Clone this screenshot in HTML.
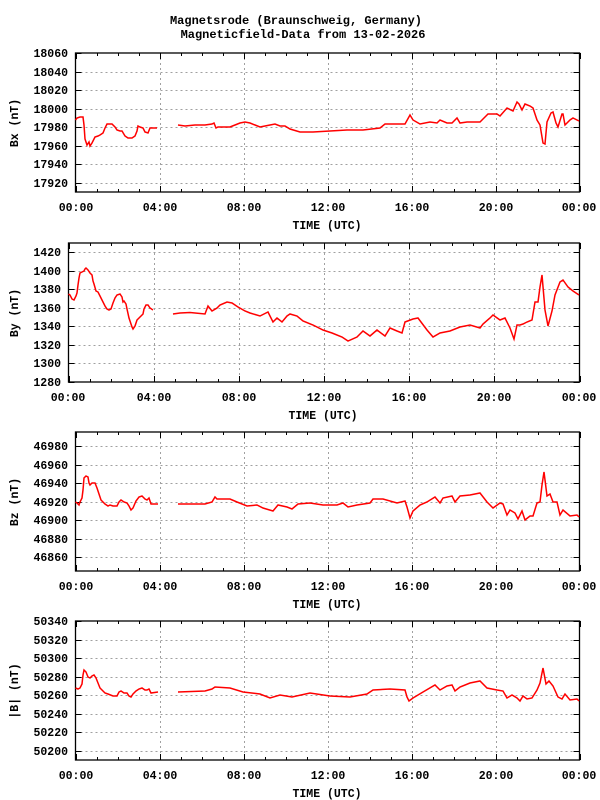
<!DOCTYPE html>
<html><head><meta charset="utf-8"><style>
body{margin:0;background:#fff;}
svg{display:block;font-family:"Liberation Mono",monospace;font-weight:bold;font-size:11.5px;}
</style></head><body>
<svg id="s" width="600" height="800" xmlns="http://www.w3.org/2000/svg">
<rect width="600" height="800" fill="#fff"/>
<g id="grid"></g>
<text x="296" y="24" text-anchor="middle" font-size="12">Magnetsrode (Braunschweig, Germany)</text>
<text x="303" y="38" text-anchor="middle" font-size="12">Magneticfield-Data from 13-02-2026</text>
<g text-anchor="end">
<text x="68" y="57">18060</text><text x="68" y="76">18040</text><text x="68" y="94">18020</text><text x="68" y="113">18000</text><text x="68" y="131">17980</text><text x="68" y="150">17960</text><text x="68" y="168">17940</text><text x="68" y="187">17920</text>
<text x="61" y="256">1420</text><text x="61" y="275">1400</text><text x="61" y="293">1380</text><text x="61" y="312">1360</text><text x="61" y="330">1340</text><text x="61" y="349">1320</text><text x="61" y="367">1300</text><text x="61" y="386">1280</text>
<text x="68" y="450">46980</text><text x="68" y="469">46960</text><text x="68" y="487">46940</text><text x="68" y="506">46920</text><text x="68" y="524">46900</text><text x="68" y="543">46880</text><text x="68" y="561">46860</text>
<text x="68" y="625">50340</text><text x="68" y="644">50320</text><text x="68" y="662">50300</text><text x="68" y="681">50280</text><text x="68" y="699">50260</text><text x="68" y="718">50240</text><text x="68" y="736">50220</text><text x="68" y="755">50200</text>
</g>
<g text-anchor="middle">
<text x="76" y="211">00:00</text><text x="160" y="211">04:00</text><text x="244" y="211">08:00</text><text x="328" y="211">12:00</text><text x="412" y="211">16:00</text><text x="496" y="211">20:00</text><text x="579" y="211">00:00</text>
<text x="327" y="229">TIME (UTC)</text>
<text x="68" y="401">00:00</text><text x="154" y="401">04:00</text><text x="239" y="401">08:00</text><text x="324" y="401">12:00</text><text x="409" y="401">16:00</text><text x="494" y="401">20:00</text><text x="579" y="401">00:00</text>
<text x="323" y="419">TIME (UTC)</text>
<text x="76" y="590">00:00</text><text x="160" y="590">04:00</text><text x="244" y="590">08:00</text><text x="328" y="590">12:00</text><text x="412" y="590">16:00</text><text x="496" y="590">20:00</text><text x="579" y="590">00:00</text>
<text x="327" y="608">TIME (UTC)</text>
<text x="76" y="779">00:00</text><text x="160" y="779">04:00</text><text x="244" y="779">08:00</text><text x="328" y="779">12:00</text><text x="412" y="779">16:00</text><text x="496" y="779">20:00</text><text x="579" y="779">00:00</text>
<text x="327" y="797">TIME (UTC)</text>
<text transform="translate(18,123) rotate(-90)">Bx (nT)</text>
<text transform="translate(18,313) rotate(-90)">By (nT)</text>
<text transform="translate(18,502) rotate(-90)">Bz (nT)</text>
<text transform="translate(18,691) rotate(-90)">|B| (nT)</text>
</g>
<g fill="none" stroke="#f00" stroke-width="1.5" stroke-linejoin="miter">
<polyline points="75.5,120 77,118 80,117 83,117 84,125 85,139 87,145 89,142 90,146 92,143 95,137 98,136 100,135 103,133 105,128 107,124 112,124 115,127 117,130 120,131 122,131 125,136 128,138 132,138 135,136 137,131 138,126 140,127 143,128 145,132 148,133 150,128 157,128"/>
<polyline points="178,125 185,126 195,125 205,125 212,124 214,123 216,128 218,127 222,127 230,127 235,125 240,123 245,122 250,123 255,125 260,127 265,126 270,125 275,124 280,126 285,126 290,129 300,132 313,132 330,131 347,130 363,130 380,128 385,124 405,124 410,115 413,120 420,124 430,122 437,123 440,120 447,123 452,123 457,118 460,123 467,122 480,122 483,119 488,114 497,114 500,116 507,108 513,111 517,102 519,104 522,110 525,104 530,106 533,108 537,120 540,125 543,143 545,144 547,122 551,113 553,112 556,123 558,127 562,114 563,114 565,125 570,120 573,118 579,121"/>
<polyline points="68.5,294 70,295 72,299 74,300 76,296 77,293 78,285 79,278 80,273 82,272 84,271 85,269 86,268 88,270 90,273 92,275 93,281 94,284 96,291 98,292 100,296 101,298 103,302 105,306 107,309 109,310 111,309 113,303 115,298 117,295 120,294 122,297 123,302 124,301 126,304 127,309 129,318 131,324 132,327 133,329 135,326 137,320 140,317 143,314 144,309 146,305 148,305 150,308 153,310"/>
<polyline points="173,314 180,313 190,312.5 205,314 208,306 212,311 217,308 220,305 227,302 232,303 238,307 245,311 250,313 260,316 268,312 273,322 277,318 282,322 287,316 290,314 297,316 303,321 313,325 323,330 332,333 342,337 348,341 357,337 363,331 370,336 377,330 385,336 390,328 397,331 402,333 405,322 413,319 418,318 427,330 433,337 440,333 450,331 460,327 470,325 480,328 483,324 490,318 493,315 500,320 505,318 510,328 514,339 517,325 520,325 523,324 527,322 532,320 535,302 538,302 540,287 542,275 545,310 548,326 552,311 555,295 560,282 563,280 568,287 573,291 579,295"/>
<polyline points="75.5,502 77,503 79,505 80,502 82,498 83,490 84,478 86,476 88,477 89,483 90,485 92,483 95,483 97,488 99,494 101,500 103,502 105,504 108,506 110,505 113,506 117,506 119,502 121,500 124,502 127,503 129,506 131,510 133,508 136,501 139,497 142,496 145,499 147,500 149,498 151,504 158,504"/>
<polyline points="178,504 193,504 205,504 212,502 215,497 217,499 230,499 237,502 247,506 257,505 263,508 273,511 278,505 287,507 292,509 298,504 310,503 323,505 337,505 343,503 348,507 357,505 370,503 373,499 383,499 397,503 405,501 407,507 410,518 413,511 420,505 427,502 435,497 440,503 443,498 452,496 455,502 460,496 470,495 480,493 487,502 493,508 500,503 503,504 507,515 510,510 515,513 518,519 522,511 525,520 530,516 533,516 537,503 540,502 542,485 544,472 547,496 550,494 553,502 557,502 560,515 563,510 570,516 577,515 579,517"/>
<polyline points="75.5,688 78,689 80,688 82,684 83,675 84,670 86,672 88,677 90,678 92,676 94,675 96,678 98,683 100,688 102,690 105,693 108,694 113,696 117,696 119,692 121,691 124,693 127,693 129,696 131,697 133,694 136,691 139,689 142,688 145,690 147,690 149,689 151,693 158,692"/>
<polyline points="178,692 205,691 212,689 215,687 230,688 243,692 260,694 270,698 280,695 292,697 310,693 330,696 350,697 367,694 373,690 390,689 405,690 407,697 409,701 413,698 423,692 435,685 440,690 447,686 452,685 455,691 460,687 470,683 480,681 487,688 497,690 503,691 507,698 512,695 517,698 520,701 523,696 527,699 532,698 537,690 540,683 543,668 546,684 549,681 553,686 558,697 562,699 565,694 570,700 577,699 579,701"/>
</g>
</svg>
<script>
var g=document.getElementById('grid'),NS="http://www.w3.org/2000/svg";
function ln(x1,y1,x2,y2,st,dash){var l=document.createElementNS(NS,'line');l.setAttribute('x1',x1);l.setAttribute('y1',y1);l.setAttribute('x2',x2);l.setAttribute('y2',y2);l.setAttribute('stroke',st);l.setAttribute('stroke-width',1);if(dash)l.setAttribute('stroke-dasharray',dash);g.appendChild(l);}
var P=[[75.5,53,192,[53,71.5,90,108.6,127.1,145.6,164.1,182.7]],[68.5,243,382,[252.3,270.8,289.3,307.8,326.4,344.9,363.4,382]],[75.5,432,571,[446,464.5,483,502,520,538.5,557]],[75.5,621,760,[621,639.5,658,676.6,695.1,713.6,732.1,750.7]]];
P.forEach(function(p){var L=p[0],T=p[1],B=p[2],R=579.5,w=R-L;
for(var h=0;h<=24;h++){var x=Math.round(L+w*h/24)+0.5;if(h%4==0){if(h>0&&h<24)ln(x,T,x,B,'#a0a0a0','2,3');ln(x,B,x,B-6,'#000');ln(x,T,x,T+6,'#000');}else{ln(x,B,x,B-3,'#000');ln(x,T,x,T+3,'#000');}}
p[3].forEach(function(y){y=Math.round(y)+0.5;if(y>T+1&&y<B-1)ln(L,y,R,y,'#a0a0a0','2,3');ln(L,y,L+6,y,'#000');ln(R,y,R-6,y,'#000');});
var r=document.createElementNS(NS,'rect');r.setAttribute('x',L);r.setAttribute('y',T);r.setAttribute('width',w);r.setAttribute('height',B-T);r.setAttribute('fill','none');r.setAttribute('stroke','#000');r.setAttribute('stroke-width',1.3);g.appendChild(r);});
</script>
</body></html>
